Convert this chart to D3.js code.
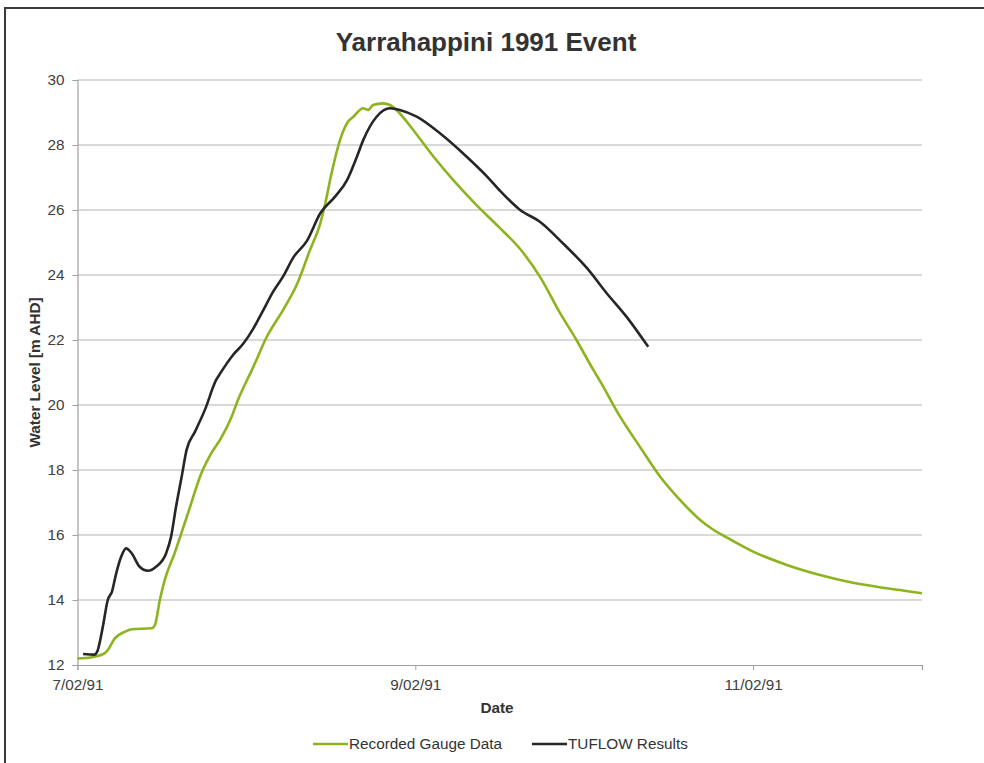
<!DOCTYPE html>
<html>
<head>
<meta charset="utf-8">
<script src="https://cdn.jsdelivr.net/npm/d3@7"></script>
<style>
  html, body { margin: 0; padding: 0; background: #fff; }
  svg { display: block; font-family: "Liberation Sans", Arial, sans-serif; }
</style>
</head>
<body>
<svg id="chart" width="984" height="763"></svg>
<script>
// Recorded gauge levels (hours after 7/02/91 00:00, m AHD)
const gaugeHours = [0, 2, 3.6, 4.3, 5.3, 6.7, 7.7, 10.5, 11, 11.7, 12.4, 13.8, 15.7, 17.6, 19, 20.4, 21.9, 22.7,
  25, 26.9, 29.2, 31.2, 33, 34.5, 35.2, 36.1, 37.3, 38.3, 39.2, 40.6, 41.3, 42, 43.4, 44.4, 45.8, 47.7,
  50.6, 53.4, 56.7, 60, 62.9, 65.7, 68.6, 70.9, 73.3, 74.3, 77.1, 79.9, 82.8, 85.6, 88.4, 90.3, 92.3, 96, 100.8,
  105.5, 110.2, 115, 120];
const gaugeLevel = [12.2, 12.24, 12.33, 12.46, 12.82, 13.02, 13.1, 13.13, 13.23, 14.0, 14.62, 15.44, 16.67, 17.9, 18.51, 18.98, 19.64, 20.1,
  21.18, 22.1, 22.92, 23.72, 24.75, 25.59, 26.2, 27.13, 28.15, 28.67, 28.87, 29.13, 29.08, 29.23, 29.28, 29.23, 28.97, 28.46,
  27.64, 26.92, 26.15, 25.45, 24.8, 23.95, 22.82, 22.0, 21.08, 20.72, 19.64, 18.72, 17.79, 17.08, 16.48, 16.17, 15.92, 15.49, 15.08,
  14.77, 14.53, 14.36, 14.21];

// TUFLOW model results
const tuflowHours = [0.8, 2.4, 2.8, 3.6, 4.3, 4.9, 5.5, 6.2, 6.9, 7.7, 8.8, 10, 11.2, 12.6, 13.3, 14, 14.8, 15.5, 16.7, 18.1,
  19.7, 20.3, 22.1, 23.6, 25, 26.4, 27.8, 29.2, 30.7, 32.6, 34.5, 36.6, 38.3, 39.7, 40.6, 42.5, 44.4, 45.8, 48.2,
  51.5, 55.3, 58.2, 60, 62.9, 65.7, 69, 72.4, 75.2, 78, 81.1];
const tuflowLevel = [12.34, 12.32, 12.41, 13.18, 14.0, 14.26, 14.82, 15.33, 15.59, 15.44, 15.03, 14.9, 15.03, 15.44, 15.95, 16.87, 17.79, 18.62, 19.18, 19.85,
  20.77, 20.98, 21.54, 21.9, 22.36, 22.92, 23.49, 23.95, 24.55, 25.05, 25.9, 26.41, 26.92, 27.64, 28.15, 28.87, 29.13, 29.08, 28.87,
  28.36, 27.64, 27.03, 26.6, 26.0, 25.64, 24.97, 24.21, 23.44, 22.72, 21.79];

const xTickDates = ["1991-02-07", "1991-02-09", "1991-02-11"];
const yTicks = [12, 14, 16, 18, 20, 22, 24, 26, 28, 30];
const seriesNames = ["Recorded Gauge Data", "TUFLOW Results"];
const seriesColors = ["#8db31e", "#262626"];

const parseDay = d3.timeParse("%Y-%m-%d");
const start = parseDay("1991-02-07");
const end = parseDay("1991-02-12");
const toDate = h => new Date(start.getTime() + h * 3600e3);

const gauge = gaugeHours.map((h, i) => ({ t: toDate(h), v: gaugeLevel[i] }));
const tuflow = tuflowHours.map((h, i) => ({ t: toDate(h), v: tuflowLevel[i] }));

const svg = d3.select("#chart");
const plot = { left: 77.5, right: 922, top: 80, bottom: 665 };
const fontSize = 15.3;

const x = d3.scaleTime().domain([start, end]).range([plot.left, plot.right]);
const y = d3.scaleLinear().domain([12, 30]).range([plot.bottom, plot.top]);

// outer frame
svg.append("rect")
  .attr("x", 5).attr("y", 8).attr("width", 990).attr("height", 770)
  .attr("fill", "#fff").attr("stroke", "#3a3a3a").attr("stroke-width", 2);

// title
svg.append("text")
  .attr("x", 486).attr("y", 51)
  .attr("text-anchor", "middle")
  .attr("font-size", 26).attr("font-weight", "bold").attr("fill", "#333")
  .text("Yarrahappini 1991 Event");

// horizontal gridlines
svg.append("g")
  .selectAll("line")
  .data(yTicks.filter(v => v !== 12))
  .join("line")
  .attr("x1", plot.left).attr("x2", plot.right)
  .attr("y1", d => y(d)).attr("y2", d => y(d))
  .attr("stroke", "#b4b4b4").attr("stroke-width", 1.2);

// y axis
const yAxis = svg.append("g")
  .attr("transform", `translate(${plot.left},0)`)
  .call(d3.axisLeft(y).tickValues(yTicks).tickSize(5).tickPadding(8).tickFormat(d3.format("d")));
yAxis.select(".domain").attr("stroke", "#a0a0a0").attr("stroke-width", 1.2);
yAxis.selectAll(".tick line").attr("stroke", "#a0a0a0");
yAxis.selectAll(".tick text").attr("font-size", fontSize).attr("fill", "#404040")
  .attr("font-family", "Liberation Sans, Arial, sans-serif");

// x axis
const xAxis = svg.append("g")
  .attr("transform", `translate(0,${plot.bottom})`)
  .call(d3.axisBottom(x).tickValues(xTickDates.map(parseDay)).tickSize(5).tickPadding(9)
    .tickFormat(d3.timeFormat("%-d/%m/%y")));
xAxis.select(".domain").attr("stroke", "#a0a0a0").attr("stroke-width", 1.2);
xAxis.selectAll(".tick line").attr("stroke", "#a0a0a0");
xAxis.selectAll(".tick text").attr("font-size", fontSize).attr("fill", "#404040")
  .attr("font-family", "Liberation Sans, Arial, sans-serif");

// axis titles
svg.append("text")
  .attr("x", 497).attr("y", 713)
  .attr("text-anchor", "middle")
  .attr("font-size", fontSize).attr("font-weight", "bold").attr("fill", "#333")
  .text("Date");

svg.append("text")
  .attr("transform", `translate(40,${(plot.top + plot.bottom) / 2}) rotate(-90)`)
  .attr("text-anchor", "middle")
  .attr("font-size", fontSize).attr("font-weight", "bold").attr("fill", "#333")
  .text("Water Level [m AHD]");

// series lines
const line = d3.line().x(d => x(d.t)).y(d => y(d.v)).curve(d3.curveMonotoneX);

[gauge, tuflow].forEach((data, i) => {
  svg.append("path")
    .datum(data)
    .attr("fill", "none")
    .attr("stroke", seriesColors[i])
    .attr("stroke-width", 2.6)
    .attr("stroke-linejoin", "round")
    .attr("d", line);
});

// legend
const legendItems = [{ x: 313 }, { x: 532 }];
const legend = svg.append("g");
legendItems.forEach((it, i) => {
  legend.append("line")
    .attr("x1", it.x).attr("x2", it.x + 35)
    .attr("y1", 744).attr("y2", 744)
    .attr("stroke", seriesColors[i]).attr("stroke-width", 2.6);
  legend.append("text")
    .attr("x", it.x + 36).attr("y", 749)
    .attr("font-size", fontSize).attr("fill", "#333")
    .text(seriesNames[i]);
});
</script>
</body>
</html>
